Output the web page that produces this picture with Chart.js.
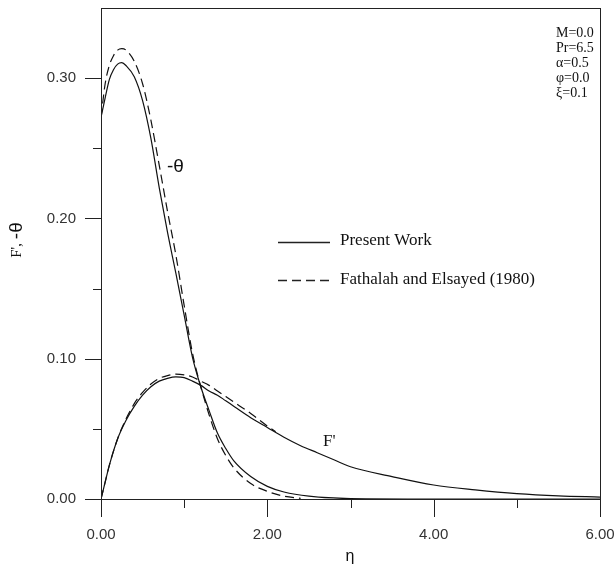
<!DOCTYPE html>
<html>
<head>
<meta charset="utf-8">
<script src="https://cdn.jsdelivr.net/npm/chart.js@4.4.0/dist/chart.umd.min.js"></script>
<style>
  body { margin: 0; background: #fff; }
  #wrap { width: 615px; height: 565px; }
</style>
</head>
<body>
<div id="wrap"><canvas id="profileChart" width="615" height="565"></canvas></div>
<script>
// -theta profiles
var etaThetaPresent = [0, 0.05, 0.1, 0.15, 0.2, 0.25, 0.3, 0.4, 0.5, 0.6, 0.7, 0.8, 0.9, 1.0, 1.1, 1.2, 1.3, 1.4, 1.5, 1.6, 1.8, 2.0, 2.2, 2.5, 3.0, 4.0, 6.0];
var thetaPresent = [0.272, 0.286, 0.299, 0.306, 0.310, 0.311, 0.309, 0.301, 0.284, 0.257, 0.222, 0.190, 0.161, 0.131, 0.101, 0.080, 0.063, 0.047, 0.036, 0.027, 0.016, 0.009, 0.005, 0.002, 0.0003, 0, 0];
var etaThetaFathalah = [0, 0.05, 0.1, 0.15, 0.2, 0.25, 0.3, 0.4, 0.5, 0.6, 0.7, 0.8, 0.9, 1.0, 1.1, 1.2, 1.3, 1.4, 1.5, 1.6, 1.8, 2.0, 2.2, 2.4];
var thetaFathalah = [0.272, 0.296, 0.309, 0.316, 0.320, 0.321, 0.320, 0.312, 0.296, 0.270, 0.238, 0.205, 0.174, 0.138, 0.104, 0.080, 0.060, 0.043, 0.031, 0.022, 0.011, 0.0055, 0.002, 0.0005];

// F' profiles
var etaFPresent = [0, 0.05, 0.1, 0.2, 0.3, 0.4, 0.5, 0.6, 0.7, 0.8, 0.9, 1.0, 1.1, 1.2, 1.3, 1.4, 1.5, 1.6, 1.8, 2.0, 2.2, 2.4, 2.6, 2.8, 3.0, 3.5, 4.0, 4.5, 5.0, 5.5, 6.0];
var fPresent = [0, 0.012, 0.024, 0.043, 0.056, 0.066, 0.074, 0.080, 0.084, 0.086, 0.087, 0.0865, 0.084, 0.081, 0.077, 0.074, 0.070, 0.066, 0.058, 0.051, 0.044, 0.038, 0.033, 0.028, 0.023, 0.016, 0.010, 0.0065, 0.0038, 0.0022, 0.0014];
var etaFFathalah = [0, 0.05, 0.1, 0.2, 0.3, 0.4, 0.5, 0.6, 0.7, 0.8, 0.9, 1.0, 1.1, 1.2, 1.3, 1.4, 1.5, 1.6, 1.8, 2.0, 2.1];
var fFathalah = [0, 0.012, 0.024, 0.043, 0.057, 0.068, 0.076, 0.082, 0.086, 0.088, 0.089, 0.0885, 0.087, 0.084, 0.081, 0.077, 0.073, 0.069, 0.061, 0.052, 0.048];

// ticks
var xMajorTicks = [0, 2, 4, 6];
var xMinorTicks = [1, 3, 5];
var yMajorTicks = [0, 0.1, 0.2, 0.3];
var yMinorTicks = [0.05, 0.15, 0.25];

var paramLines = ['M=0.0', 'Pr=6.5', '\u03b1=0.5', '\u03c6=0.0', '\u03be=0.1'];

function toPoints(xs, ys) {
  return xs.map(function(x, i) { return { x: x, y: ys[i] }; });
}

var serif = '"Liberation Serif", "Times New Roman", serif';
var sans = '"Liberation Sans", Arial, sans-serif';

// frame, tick marks and the text inside the plot
var decorPlugin = {
  id: 'decor',
  afterDraw: function(chart) {
    var ctx = chart.ctx;
    var a = chart.chartArea;
    var xs = chart.scales.x, ys = chart.scales.y;
    ctx.save();
    ctx.strokeStyle = '#222';
    ctx.lineWidth = 1;
    ctx.strokeRect(a.left + 0.5, a.top + 0.5, a.right - a.left, a.bottom - a.top);

    ctx.beginPath();
    yMajorTicks.forEach(function(v) {
      var y = Math.round(ys.getPixelForValue(v)) + 0.5;
      ctx.moveTo(a.left - 16, y); ctx.lineTo(a.left, y);
    });
    yMinorTicks.forEach(function(v) {
      var y = Math.round(ys.getPixelForValue(v)) + 0.5;
      ctx.moveTo(a.left - 8, y); ctx.lineTo(a.left, y);
    });
    xMajorTicks.forEach(function(v) {
      var x = Math.round(xs.getPixelForValue(v)) + 0.5;
      ctx.moveTo(x, a.bottom); ctx.lineTo(x, a.bottom + 18);
    });
    xMinorTicks.forEach(function(v) {
      var x = Math.round(xs.getPixelForValue(v)) + 0.5;
      ctx.moveTo(x, a.bottom); ctx.lineTo(x, a.bottom + 9);
    });
    ctx.stroke();

    ctx.fillStyle = '#111';
    ctx.textBaseline = 'middle';

    // curve labels
    ctx.font = '19px ' + sans;
    ctx.fillText('-\u03b8', 167, 167);
    ctx.font = '17px ' + serif;
    ctx.textBaseline = 'alphabetic';
    ctx.fillText("F'", 323, 446);

    // legend
    ctx.textBaseline = 'middle';
    ctx.lineWidth = 1.3;
    ctx.beginPath();
    ctx.moveTo(278, 242.5); ctx.lineTo(330, 242.5);
    ctx.stroke();
    ctx.setLineDash([9, 5]);
    ctx.beginPath();
    ctx.moveTo(278, 280.5); ctx.lineTo(330, 280.5);
    ctx.stroke();
    ctx.setLineDash([]);
    ctx.font = '17px ' + serif;
    ctx.fillText('Present Work', 340, 241);
    ctx.fillText('Fathalah and Elsayed (1980)', 340, 280);

    // parameters
    ctx.font = '14px ' + serif;
    paramLines.forEach(function(t, i) {
      ctx.fillText(t, 556, 33 + i * 15);
    });

    // axis titles
    ctx.font = '16px ' + sans;
    ctx.textAlign = 'center';
    ctx.fillText('\u03b7', 350, 557);

    ctx.translate(17, 240);
    ctx.rotate(-Math.PI / 2);
    ctx.textAlign = 'left';
    ctx.font = '15px ' + serif;
    var w1 = ctx.measureText("F', ").width;
    ctx.font = '19px ' + sans;
    var w2 = ctx.measureText('-\u03b8').width;
    var start = -(w1 + w2) / 2;
    ctx.font = '15px ' + serif;
    ctx.fillText("F', ", start, 0);
    ctx.font = '19px ' + sans;
    ctx.fillText('-\u03b8', start + w1, 0);
    ctx.restore();
  }
};

var ctx = document.getElementById('profileChart').getContext('2d');

var lineBase = {
  showLine: true,
  pointRadius: 0,
  borderColor: '#111',
  borderWidth: 1.2,
  fill: false,
  cubicInterpolationMode: 'monotone'
};

var myChart = new Chart(ctx, {
  type: 'scatter',
  data: {
    datasets: [
      Object.assign({ label: '-theta Present Work', data: toPoints(etaThetaPresent, thetaPresent) }, lineBase),
      Object.assign({ label: '-theta Fathalah and Elsayed (1980)', data: toPoints(etaThetaFathalah, thetaFathalah), borderDash: [9, 5] }, lineBase),
      Object.assign({ label: "F' Present Work", data: toPoints(etaFPresent, fPresent) }, lineBase),
      Object.assign({ label: "F' Fathalah and Elsayed (1980)", data: toPoints(etaFFathalah, fFathalah), borderDash: [9, 5] }, lineBase)
    ]
  },
  options: {
    responsive: false,
    animation: false,
    layout: { padding: { top: 8, right: 15, left: 0, bottom: 0 } },
    plugins: {
      legend: { display: false },
      tooltip: { enabled: false }
    },
    scales: {
      x: {
        type: 'linear',
        min: 0,
        max: 6,
        grid: { display: false, drawTicks: false },
        border: { display: false },
        afterBuildTicks: function(scale) {
          scale.ticks = xMajorTicks.map(function(v) { return { value: v }; });
        },
        afterFit: function(scale) {
          scale.height = 66;
          scale.paddingLeft = 0;
          scale.paddingRight = 0;
        },
        ticks: {
          padding: 27,
          maxRotation: 0,
          color: '#333',
          font: { family: sans, size: 15 },
          callback: function(v) { return Number(v).toFixed(2); }
        }
      },
      y: {
        type: 'linear',
        min: 0,
        max: 0.35,
        grid: { display: false, drawTicks: false },
        border: { display: false },
        afterBuildTicks: function(scale) {
          scale.ticks = yMajorTicks.map(function(v) { return { value: v }; });
        },
        afterFit: function(scale) {
          scale.width = 101;
          scale.paddingTop = 0;
          scale.paddingBottom = 0;
        },
        ticks: {
          padding: 25,
          color: '#333',
          font: { family: sans, size: 15 },
          callback: function(v) { return Number(v).toFixed(2); }
        }
      }
    }
  },
  plugins: [decorPlugin]
});
</script>
</body>
</html>
